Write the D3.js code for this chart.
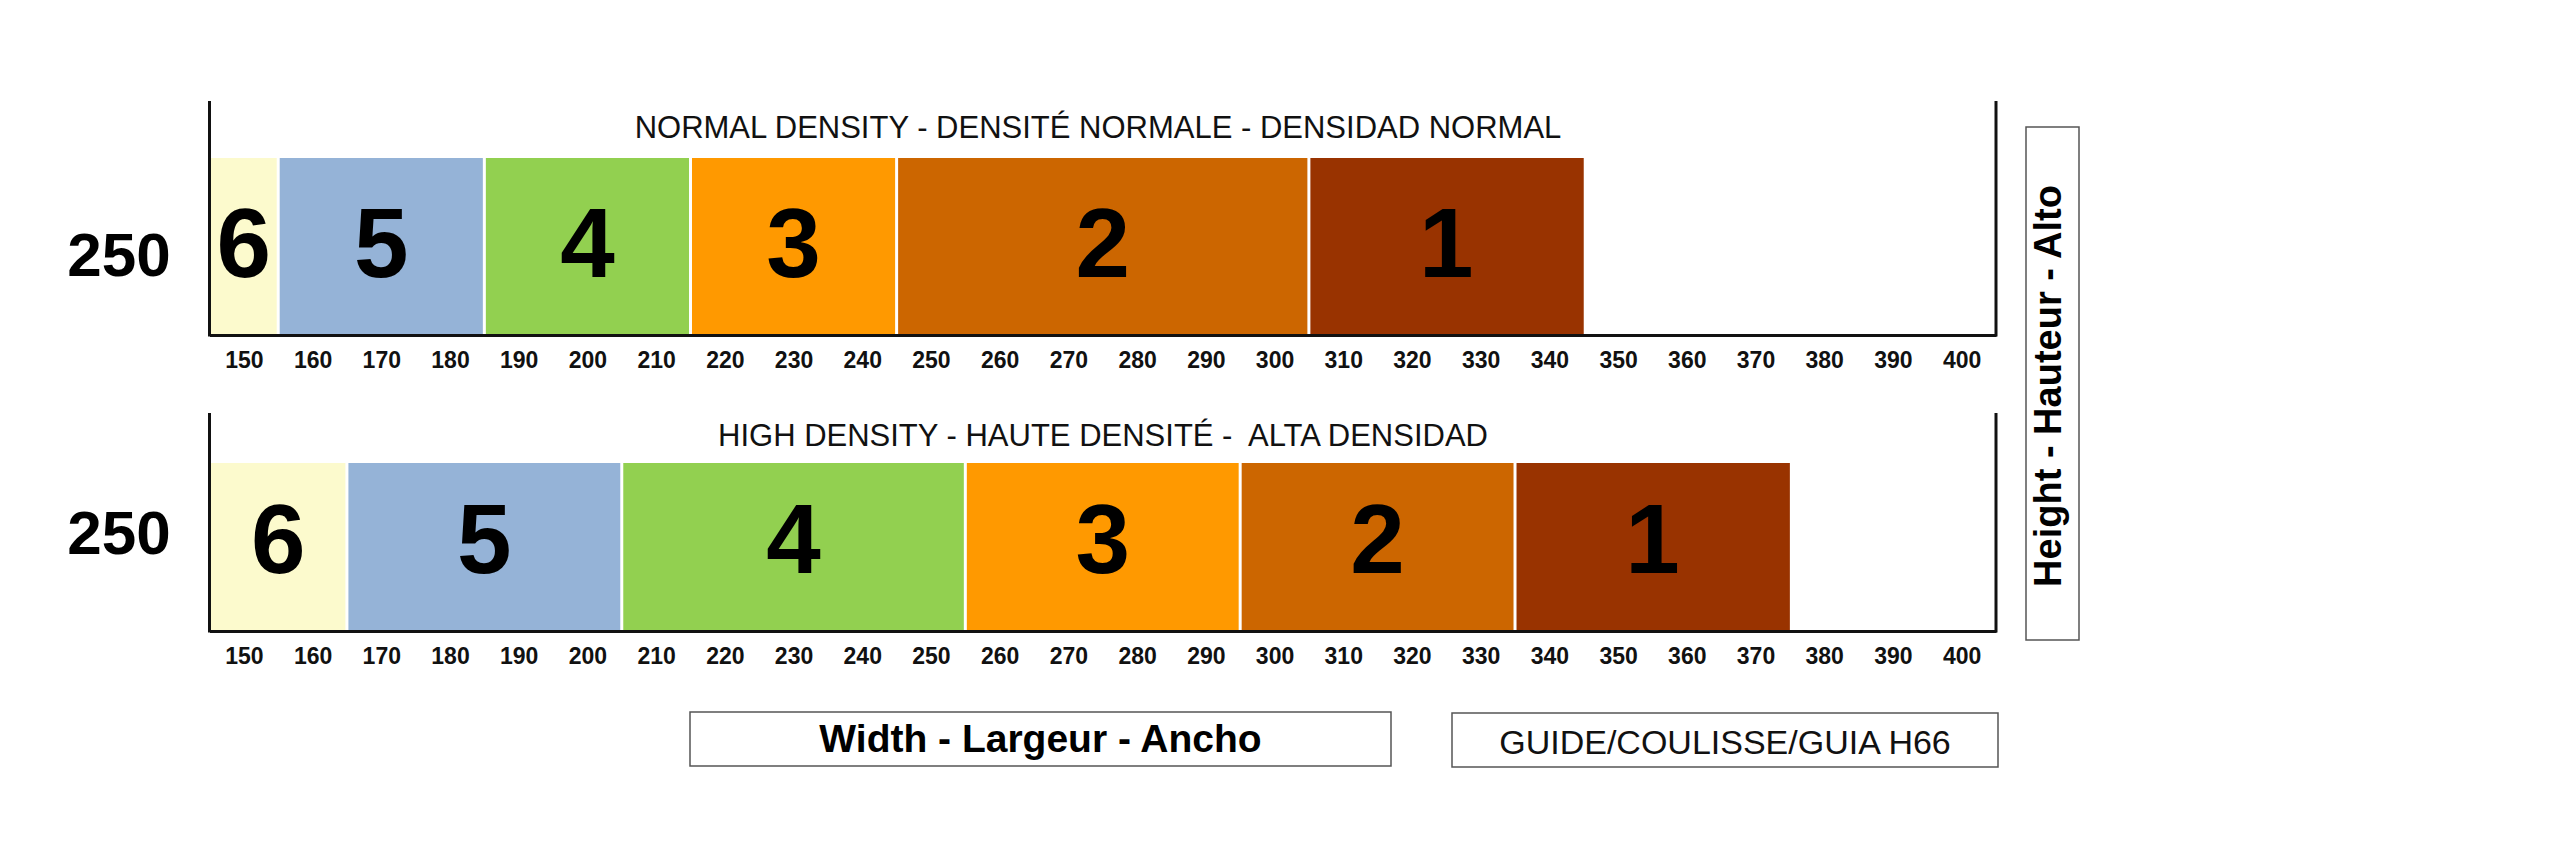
<!DOCTYPE html>
<html>
<head>
<meta charset="utf-8">
<script src="https://cdn.jsdelivr.net/npm/d3@7"></script>
<style>
  html, body { margin: 0; padding: 0; background: #ffffff; }
  svg { display: block; font-family: "Liberation Sans", Arial, sans-serif; }
</style>
</head>
<body>
<svg id="chart" width="2560" height="867"></svg>
<script>
// ---------------- DATA ----------------
const zoneLabels = ["6", "5", "4", "3", "2", "1"];
const zoneColors = ["#FCFACD", "#95B3D7", "#92D050", "#FF9900", "#CC6600", "#993300"];
// zone edges (width in cm) for each density
const normalEdges = [145, 155, 185, 215, 245, 305, 345];
const highEdges   = [145, 165, 205, 255, 295, 335, 375];
const widthTickValues = [150, 160, 170, 180, 190, 200, 210, 220, 230, 240, 250, 260, 270,
                         280, 290, 300, 310, 320, 330, 340, 350, 360, 370, 380, 390, 400];
const heightLabels = ["250", "250"];
const panelTitles = [
  "NORMAL DENSITY - DENSITÉ NORMALE - DENSIDAD NORMAL",
  "HIGH DENSITY - HAUTE DENSITÉ -  ALTA DENSIDAD"
];
const widthAxisTitle = "Width - Largeur - Ancho";
const guideTitle = "GUIDE/COULISSE/GUIA H66";
const heightAxisTitle = "Height - Hauteur - Alto";
const domainWidth = [145, 405];

// ---------------- LAYOUT ----------------
const svg = d3.select("#chart");
const x = d3.scaleLinear().domain(domainWidth).range([209.5, 1996]);

const panels = [
  { edges: normalEdges, title: panelTitles[0], hLabel: heightLabels[0],
    frameTop: 101, barTop: 158, axisY: 335, titleX: 1098, titleY: 138,
    hLabelY: 276, numY: 277 },
  { edges: highEdges, title: panelTitles[1], hLabel: heightLabels[1],
    frameTop: 413, barTop: 463, axisY: 631, titleX: 1103, titleY: 446,
    hLabelY: 554, numY: 573 }
];

panels.forEach(p => {
  const g = svg.append("g");
  const zones = zoneLabels.map((lab, i) => ({ lab, color: zoneColors[i], x0: p.edges[i], x1: p.edges[i + 1] }));

  // bars
  g.selectAll("rect.zone").data(zones).join("rect")
    .attr("class", "zone")
    .attr("x", d => x(d.x0))
    .attr("width", d => x(d.x1) - x(d.x0))
    .attr("y", p.barTop)
    .attr("height", p.axisY - p.barTop)
    .attr("fill", d => d.color);

  // white separators
  g.selectAll("line.sep").data(zones.slice(1)).join("line")
    .attr("class", "sep")
    .attr("x1", d => x(d.x0)).attr("x2", d => x(d.x0))
    .attr("y1", p.barTop).attr("y2", p.axisY - 1)
    .attr("stroke", "#ffffff").attr("stroke-width", 3);

  // zone numbers
  g.selectAll("text.num").data(zones).join("text")
    .attr("class", "num")
    .attr("x", d => (x(d.x0) + x(d.x1)) / 2)
    .attr("y", p.numY)
    .attr("text-anchor", "middle")
    .attr("font-weight", "bold")
    .attr("font-size", 98)
    .attr("fill", "#000")
    .text(d => d.lab);

  // vertical frame lines
  [domainWidth[0], domainWidth[1]].forEach(v => {
    g.append("line")
      .attr("x1", x(v)).attr("x2", x(v))
      .attr("y1", p.frameTop).attr("y2", p.axisY + 1.5)
      .attr("stroke", "#111").attr("stroke-width", 3);
  });

  // bottom axis
  const axis = d3.axisBottom(x).tickValues(widthTickValues).tickSize(0).tickSizeOuter(0).tickPadding(17);
  const ag = g.append("g").attr("transform", `translate(0,${p.axisY})`).call(axis);
  ag.select(".domain").attr("stroke", "#111").attr("stroke-width", 3);
  ag.selectAll("text")
    .attr("font-family", "'Liberation Sans', Arial, sans-serif")
    .attr("font-size", 23).attr("font-weight", "bold").attr("fill", "#111");

  // title
  g.append("text")
    .attr("x", p.titleX).attr("y", p.titleY)
    .attr("text-anchor", "middle")
    .attr("font-size", 31)
    .attr("fill", "#111")
    .style("white-space", "pre")
    .text(p.title);

  // height label
  g.append("text")
    .attr("x", 119).attr("y", p.hLabelY)
    .attr("text-anchor", "middle")
    .attr("font-size", 62).attr("font-weight", "bold")
    .attr("fill", "#000")
    .text(p.hLabel);
});

// width title box
svg.append("rect").attr("x", 690).attr("y", 712).attr("width", 701).attr("height", 54)
  .attr("fill", "#fff").attr("stroke", "#555").attr("stroke-width", 1.5);
svg.append("text").attr("x", 1040.5).attr("y", 752)
  .attr("text-anchor", "middle").attr("font-size", 39).attr("font-weight", "bold").attr("fill", "#000")
  .text(widthAxisTitle);

// guide box
svg.append("rect").attr("x", 1452).attr("y", 713).attr("width", 546).attr("height", 54)
  .attr("fill", "#fff").attr("stroke", "#555").attr("stroke-width", 1.5);
svg.append("text").attr("x", 1725).attr("y", 754)
  .attr("text-anchor", "middle").attr("font-size", 34).attr("fill", "#111")
  .text(guideTitle);

// height title box (vertical)
svg.append("rect").attr("x", 2026).attr("y", 127).attr("width", 53).attr("height", 513)
  .attr("fill", "#fff").attr("stroke", "#555").attr("stroke-width", 1.5);
svg.append("text")
  .attr("transform", "translate(2061,386) rotate(-90)")
  .attr("text-anchor", "middle").attr("font-size", 38).attr("font-weight", "bold").attr("fill", "#000")
  .text(heightAxisTitle);
</script>
</body>
</html>
